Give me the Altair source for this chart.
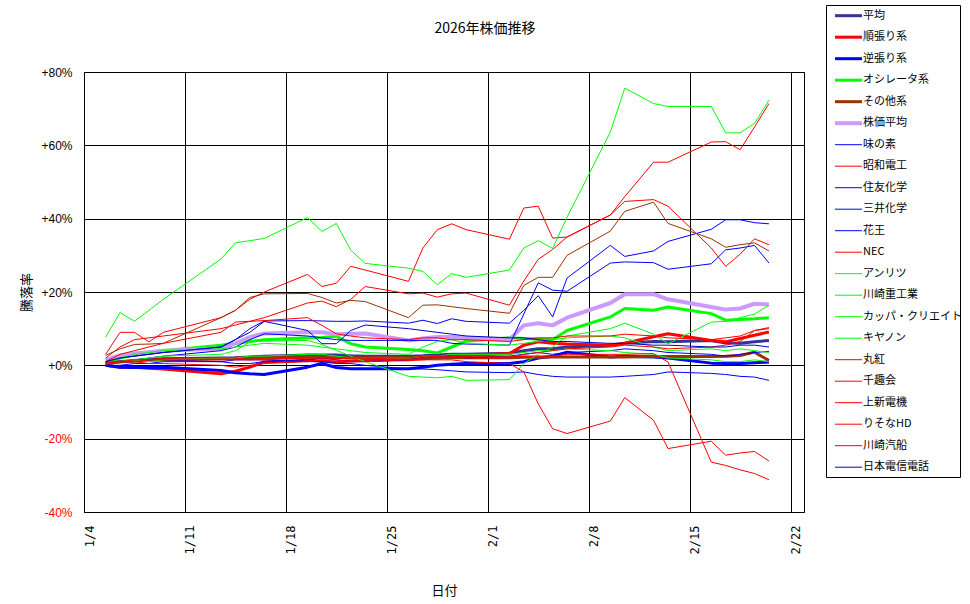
import altair as alt
import pandas as pd

# ---------------- data ----------------
dates = ["1/5", "1/6", "1/7", "1/8", "1/9", "1/13", "1/14", "1/15", "1/16",
         "1/19", "1/20", "1/21", "1/22", "1/23", "1/26", "1/27", "1/28", "1/29", "1/30",
         "2/2", "2/3", "2/4", "2/5", "2/6", "2/9", "2/10", "2/12", "2/13",
         "2/16", "2/17", "2/18", "2/19", "2/20"]

x_tick_labels = ["1/4", "1/11", "1/18", "1/25", "2/1", "2/8", "2/15", "2/22"]
y_ticks = [-40, -20, 0, 20, 40, 60, 80]
chart_title = "2026年株価推移"

heikin = [0.5, 1.0, 1.3, 1.5, 1.8, 2.0, 2.1, 2.3, 2.5, 2.8, 2.8, 2.8, 2.6, 2.5, 2.5, 2.6, 2.8, 3.0, 3.0,
          3.3, 4.0, 4.5, 4.5, 5.0, 5.5, 6.0, 6.5, 6.4, 6.8, 6.1, 6.0, 6.4, 6.8]
junbari = [0.0, -0.5, -0.5, -0.8, -1.0, -2.3, -1.6, -0.5, 0.9, 1.4, 1.2, 0.9, 1.2, 1.4, 1.5, 1.8, 2.0, 2.3, 2.7,
           3.2, 5.5, 6.4, 6.0, 5.8, 5.5, 6.0, 7.8, 8.6, 6.8, 6.4, 7.3, 8.2, 9.1]
gyakubari = [0.0, -0.5, -0.6, -0.6, -0.5, -1.4, -2.0, -2.3, -2.5, -0.5, 0.5, -0.6, -0.9, -0.9, -0.9, -0.5, 0.0, 0.3, 0.5,
             0.5, 1.0, 2.0, 2.5, 3.6, 2.3, 2.5, 2.3, 2.0, 0.6, 0.5, 0.5, 0.7, 0.9]
oscillator = [0.5, 2.0, 3.0, 3.5, 4.0, 5.5, 6.0, 6.5, 7.0, 7.5, 7.6, 7.9, 5.9, 5.0, 4.3, 4.0, 3.4, 5.0, 6.6,
              7.5, 7.3, 7.2, 7.0, 9.5, 13.2, 15.5, 15.0, 15.9, 14.1, 12.3, 12.5, 12.7, 13.0]
sonota = [0.5, 1.0, 1.2, 1.4, 1.5, 1.8, 1.9, 2.0, 2.1, 2.2, 2.2, 2.1, 2.1, 2.1, 2.1, 2.1, 2.1, 2.1, 2.1,
          2.1, 2.2, 2.2, 2.3, 2.3, 2.3, 2.3, 2.4, 2.4, 2.4, 2.5, 2.7, 3.6, 1.3]
kabuka_heikin = [1.5, 2.7, 3.2, 3.6, 4.0, 4.6, 6.0, 7.7, 8.7, 9.0, 9.0, 8.5, 8.6, 8.7, 6.8, 7.3, 7.7, 7.7, 7.5,
                 7.0, 10.9, 11.5, 10.9, 13.0, 17.0, 19.4, 19.4, 18.0, 15.9, 15.2, 15.5, 16.8, 16.6]
ajinomoto = [0.5, 1.0, 1.0, 1.5, 1.5, 1.0, 0.5, 0.5, 1.0, 1.5, 2.0, 1.5, 1.0, 1.0, 1.5, 2.0, 2.5, 2.5, 2.0,
             2.5, 3.0, 3.5, 3.0, 3.5, 4.0, 4.5, 4.0, 3.5, 3.0, 2.5, 3.0, 3.5, 3.8]
showa_denko = [3.0, 9.0, 9.0, 6.4, 9.0, 13.0, 15.0, 18.0, 20.0, 24.8, 21.5, 22.4, 27.0, 26.0, 22.9, 32.0, 37.0, 38.6, 37.0,
               34.4, 42.9, 43.4, 34.7, 35.0, 41.0, 46.0, 55.4, 55.4, 60.9, 61.0, 58.8, 65.0, 71.4]
sumitomo_kagaku = [0.0, 0.0, 0.5, 0.5, 1.0, 1.0, 1.5, 1.5, 1.5, 1.0, 1.0, 0.5, 0.5, 0.0, -1.0, -1.0, -1.2, -1.5, -1.8,
                   -2.0, -1.8, -2.5, -3.0, -3.2, -3.2, -3.0, -2.5, -1.8, -2.2, -2.5, -3.0, -3.2, -4.1]
mitsui_kagaku = [1.0, 2.0, 2.5, 3.0, 3.5, 5.0, 7.0, 10.0, 12.1, 12.2, 12.1, 12.0, 12.0, 12.1, 11.5, 12.3, 11.4, 12.7, 12.0,
                 11.5, 15.0, 19.0, 13.2, 23.8, 32.7, 29.7, 31.2, 33.8, 37.1, 39.7, 39.7, 38.9, 38.6]
kao = [0.5, 1.0, 1.5, 2.0, 2.5, 4.0, 5.0, 7.0, 8.6, 8.0, 7.5, 7.0, 6.8, 6.8, 6.8, 6.8, 6.8, 6.0, 5.8,
       5.5, 14.0, 22.5, 20.5, 20.2, 27.9, 28.2, 28.0, 26.2, 27.7, 31.5, 32.0, 32.7, 27.9]
nec = [2.0, 5.0, 7.0, 7.5, 8.0, 10.0, 11.0, 12.0, 13.0, 17.0, 17.5, 16.0, 18.0, 21.5, 19.5, 19.7, 18.6, 19.5, 19.7,
       16.4, 23.0, 28.9, 31.6, 35.0, 41.0, 44.7, 45.2, 43.4, 32.0, 27.0, 30.3, 34.5, 32.9]
anritsu = [7.7, 14.4, 12.0, 15.0, 18.0, 29.0, 33.4, 34.0, 34.6, 40.3, 36.5, 38.7, 31.4, 27.8, 26.5, 25.6, 22.0, 25.0, 24.0,
           26.0, 32.0, 34.0, 31.9, 40.4, 63.6, 75.6, 71.4, 70.6, 70.6, 63.4, 63.4, 66.0, 72.3]
kawasaki_jukogyo = [0.5, 1.0, 1.5, 2.0, 2.5, 3.0, 4.0, 6.4, 6.6, 6.8, 5.7, 4.1, 2.5, 1.0, -3.0, -3.2, -3.4, -3.0, -4.1,
                    -3.9, 0.5, 3.0, 5.0, 8.0, 10.0, 11.5, 8.5, 5.9, 11.8, 12.0, 13.0, 14.0, 16.4]
kappa_create = [0.5, 1.0, 1.5, 1.0, 1.5, 2.0, 2.0, 2.5, 2.5, 3.0, 3.0, 2.5, 2.0, 2.0, 2.0, 2.5, 2.5, 3.0, 3.0,
                3.0, 3.5, 4.0, 4.0, 4.5, 4.0, 3.5, 3.0, 2.0, 1.5, 1.0, 1.0, 1.5, 1.0]
canon = [1.0, 2.0, 3.0, 3.5, 4.0, 4.5, 5.0, 5.5, 6.0, 5.5, 5.0, 4.5, 4.0, 3.5, 3.0, 5.0, 6.5, 7.0, 6.0,
         5.5, 6.0, 6.5, 7.0, 7.5, 8.0, 7.5, 5.0, 4.0, 4.5, 4.0, 4.5, 4.0, 3.5]
marubeni = [2.7, 4.5, 5.7, 5.8, 6.0, 13.0, 15.0, 18.5, 19.5, 19.6, 18.5, 17.0, 17.7, 17.4, 13.0, 16.4, 16.5, 16.0, 15.5,
            14.2, 21.8, 24.0, 24.0, 30.0, 36.6, 42.0, 44.5, 38.7, 34.5, 32.2, 32.9, 33.4, 31.2]
senshukai = [0.5, 1.0, 1.0, 1.5, 1.5, 1.5, 1.5, 1.5, 2.0, 2.0, 2.0, 2.0, 2.0, 2.0, 1.5, 1.5, 1.5, 1.5, 1.0,
             0.5, -1.8, -10.5, -17.3, -18.6, -15.2, -8.8, -15.0, -22.7, -20.7, -24.5, -23.9, -23.5, -26.1]
joshin_denki = [1.0, 3.0, 4.0, 5.0, 6.0, 9.0, 11.8, 12.0, 12.2, 13.0, 10.9, 8.6, 8.0, 7.5, 7.0, 7.5, 7.5, 7.0, 7.0,
                6.5, 7.0, 7.5, 7.5, 8.0, 8.0, 8.5, 8.0, 7.5, 7.0, 7.5, 8.0, 9.5, 10.3]
resona = [0.5, 1.0, 1.0, 0.5, 0.5, 0.0, -0.5, 0.0, 0.5, 1.0, 1.5, 1.5, 1.0, 1.0, 1.5, 2.0, 2.5, 2.5, 2.0,
          2.0, 3.0, 3.5, 4.0, 4.5, 5.0, 5.5, 5.0, 4.5, 5.0, 5.5, 6.5, 9.5, 10.0]
kawasaki_kisen = [0.5, 1.0, 1.5, 1.5, 2.0, 2.0, 2.0, 1.5, 1.5, 2.0, 2.0, 2.0, 2.0, 2.0, 2.0, 2.5, 2.5, 2.5, 2.5,
                  2.5, 2.5, 2.5, 2.5, 3.0, 3.0, 3.0, 3.2, 0.9, -26.4, -27.3, -28.5, -29.5, -31.2]
ntt = [1.0, 2.0, 2.5, 3.0, 3.5, 5.0, 7.0, 9.0, 12.0, 9.5, 5.9, 5.9, 9.5, 11.0, 10.0, 9.5, 9.0, 8.5, 8.0,
       7.5, 7.5, 7.0, 6.5, 6.5, 6.0, 6.0, 5.5, 5.5, 5.0, 5.0, 5.5, 5.5, 5.0]

series_names = ["平均", "順張り系", "逆張り系", "オシレータ系", "その他系", "株価平均",
                "味の素", "昭和電工", "住友化学", "三井化学", "花王", "NEC",
                "アンリツ", "川崎重工業", "カッパ・クリエイト", "キヤノン", "丸紅",
                "千趣会", "上新電機", "りそなHD", "川崎汽船", "日本電信電話"]
series_values = [heikin, junbari, gyakubari, oscillator, sonota, kabuka_heikin,
                 ajinomoto, showa_denko, sumitomo_kagaku, mitsui_kagaku, kao, nec,
                 anritsu, kawasaki_jukogyo, kappa_create, canon, marubeni,
                 senshukai, joshin_denki, resona, kawasaki_kisen, ntt]

# ---------------- styles ----------------
series_colors = ["#333399", "#FF0000", "#0000FF", "#00FF00", "#993300", "#CC99FF",
                 "#0000FF", "#FF0000", "#0000FF", "#0000FF", "#0000FF", "#FF0000",
                 "#00FF00", "#00FF00", "#00FF00", "#00FF00", "#993300",
                 "#FF0000", "#FF0000", "#FF0000", "#FF0000", "#0000CC"]
series_widths = [3, 3, 3, 3, 3, 4] + [1] * 16

origin = pd.Timestamp("2026-01-04")
day_pos = [(pd.Timestamp(f"2026/{d}") - origin).days + 0.5 for d in dates]

rows = []
for order, (name, col, w, vals) in enumerate(zip(series_names, series_colors, series_widths, series_values)):
    for d, p, v in zip(dates, day_pos, vals):
        rows.append({"name": name, "date": d, "day": p, "value": v,
                     "color": col, "width": w, "order": order})
df = pd.DataFrame(rows)

legend_df = pd.DataFrame({"name": series_names, "color": series_colors,
                          "width": series_widths, "idx": list(range(len(series_names)))})

JP = "Noto Sans CJK JP"
LAT = "Liberation Sans"
MONO = "DejaVu Sans Mono"

label_js = "[" + ",".join(f"'{t}'" for t in x_tick_labels) + "]"

x_axis = alt.Axis(values=[7 * i for i in range(len(x_tick_labels))],
                  labelExpr=label_js + "[round(datum.value / 7)]",
                  labelAngle=-90, labelAlign="right", labelBaseline="top",
                  labelPadding=13, ticks=False, domain=False,
                  grid=True, gridColor="black", gridOpacity=1, gridWidth=1,
                  labelFont=MONO, labelFontSize=12, labelColor="black",
                  title="日付", titleFont=JP, titleFontSize=13, titleFontWeight="normal",
                  titleX=360, titleY=78, titleAlign="center", titleBaseline="middle")

y_axis = alt.Axis(values=y_ticks,
                  labelExpr="(datum.value >= 0 ? '+' : '') + datum.value + '%'",
                  labelColor={"condition": {"test": "datum.value < 0", "value": "#FF0000"},
                              "value": "#000000"},
                  labelPadding=12, ticks=False, domain=False,
                  grid=True, gridColor="black", gridOpacity=1, gridWidth=1,
                  labelFont=LAT, labelFontSize=12,
                  title="騰落率", titleFont=JP, titleFontSize=13, titleFontWeight="normal",
                  titleAngle=-90, titleX=-58, titleY=220, titleAlign="center", titleBaseline="middle")

lines = alt.Chart(df).mark_line(strokeJoin="round", strokeCap="butt").encode(
    x=alt.X("day:Q", scale=alt.Scale(domain=[0, 49.93], nice=False, zero=False), axis=x_axis),
    y=alt.Y("value:Q", scale=alt.Scale(domain=[-40, 80], nice=False, zero=False), axis=y_axis),
    color=alt.Color("color:N", scale=None),
    strokeWidth=alt.StrokeWidth("width:Q", scale=None),
    detail="name:N",
    order=alt.Order("day:Q"),
)

leg_y = alt.Y("idx:Q", scale=alt.Scale(domain=[2.619, 23.084], reverse=True, nice=False, zero=False),
              axis=None)

leg_box = alt.Chart(pd.DataFrame({"k": [0]})).mark_rect(
    fill="white", stroke="black", strokeWidth=1).encode(
    x=alt.value(742.5), x2=alt.value(876.5), y=alt.value(-66.5), y2=alt.value(405.5))

leg_sym = alt.Chart(legend_df).mark_rule().encode(
    x=alt.value(751), x2=alt.value(778), y=leg_y,
    color=alt.Color("color:N", scale=None),
    strokeWidth=alt.StrokeWidth("width:Q", scale=None))

leg_txt = alt.Chart(legend_df).mark_text(
    align="left", baseline="middle", font=JP, fontSize=11, color="black").encode(
    x=alt.value(779), y=leg_y, text="name:N")

title_mark = alt.Chart(pd.DataFrame({"t": [chart_title]})).mark_text(
    align="center", baseline="middle", font=JP, fontSize=14, color="black").encode(
    x=alt.value(401), y=alt.value(-43), text="t:N")

chart = alt.layer(lines, leg_box, leg_sym, leg_txt, title_mark).resolve_scale(
    y="independent"
).properties(
    width=720, height=440,
    autosize=alt.AutoSizeParams(type="none"),
    padding={"left": 84, "top": 72, "right": 166, "bottom": 92},
    background="white",
).configure_view(stroke="black", strokeWidth=1)

chart.save("out.html", embed_options={"renderer": "svg", "actions": False})
